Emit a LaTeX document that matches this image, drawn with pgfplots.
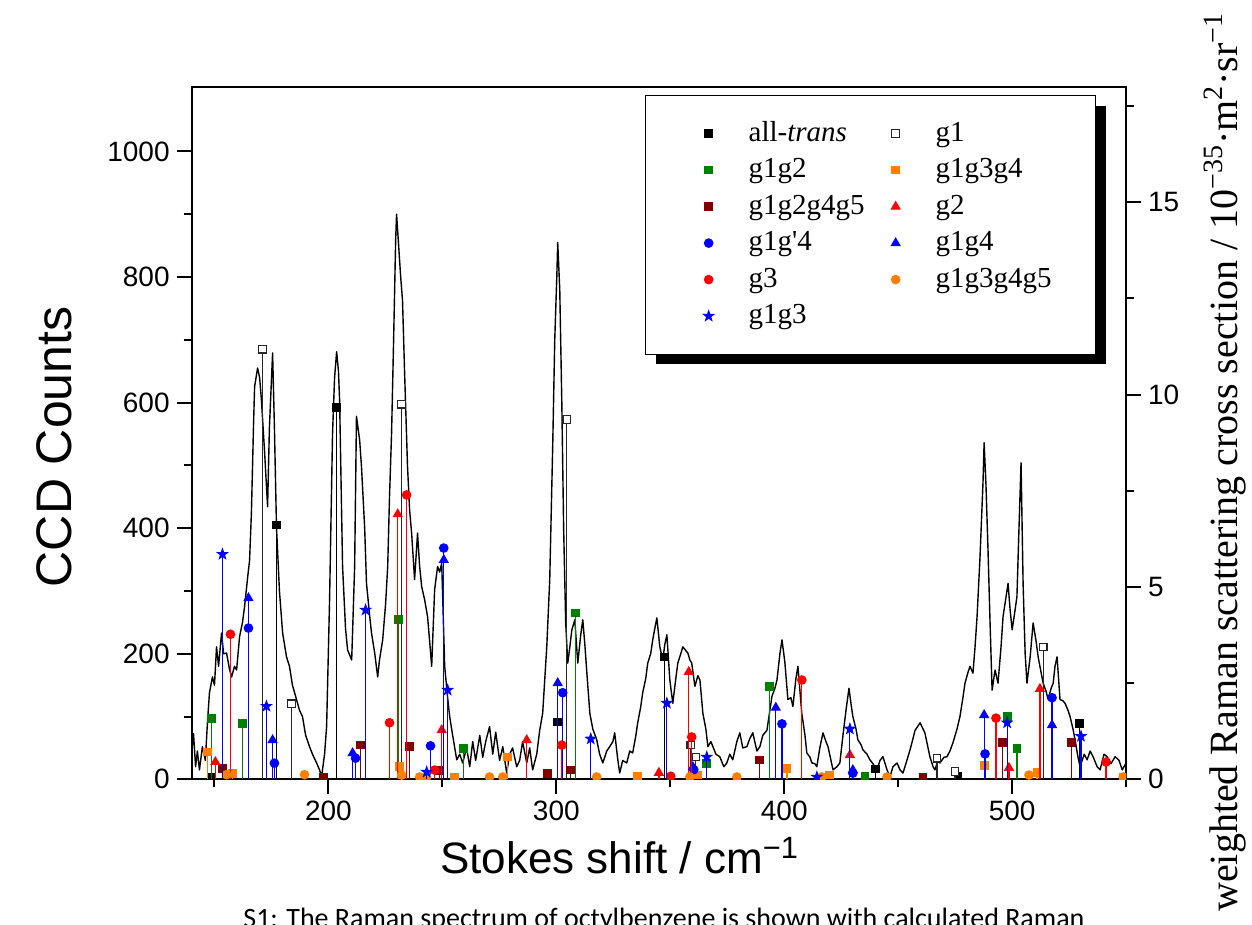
\documentclass[border=0pt]{standalone}
\usepackage{fontspec}
\setmainfont{Liberation Sans}
\newfontfamily\camb{Liberation Serif}
\newfontfamily\capfont{Carlito}
\usepackage{pgfplots}
\pgfplotsset{compat=1.18}
\usepackage{pgfplotstable}
\usetikzlibrary{shadows}
\definecolor{ogreen}{RGB}{0,128,0}
\definecolor{oorange}{RGB}{255,128,0}
\definecolor{odred}{RGB}{128,0,0}
\definecolor{ored}{RGB}{255,0,0}
\definecolor{oblue}{RGB}{0,0,255}

% filled five-pointed star
\pgfdeclareplotmark{fstar}{%
  \pgfpathmoveto{\pgfpointpolar{90}{1.25\pgfplotmarksize}}%
  \pgfpathlineto{\pgfpointpolar{126}{0.5\pgfplotmarksize}}%
  \pgfpathlineto{\pgfpointpolar{162}{1.25\pgfplotmarksize}}%
  \pgfpathlineto{\pgfpointpolar{198}{0.5\pgfplotmarksize}}%
  \pgfpathlineto{\pgfpointpolar{234}{1.25\pgfplotmarksize}}%
  \pgfpathlineto{\pgfpointpolar{270}{0.5\pgfplotmarksize}}%
  \pgfpathlineto{\pgfpointpolar{306}{1.25\pgfplotmarksize}}%
  \pgfpathlineto{\pgfpointpolar{342}{0.5\pgfplotmarksize}}%
  \pgfpathlineto{\pgfpointpolar{18}{1.25\pgfplotmarksize}}%
  \pgfpathlineto{\pgfpointpolar{54}{0.5\pgfplotmarksize}}%
  \pgfpathclose\pgfusepathqfillstroke}

\pgfplotsset{
  stem/.style={ycomb, line width=0.6pt, mark size=1.9pt,
    legend image code/.code={%
      \pgfpathrectangle{\pgfpoint{0pt}{-4pt}}{\pgfpoint{23pt}{8pt}}%
      \pgfusepath{use as bounding box}%
      \draw[##1] plot coordinates {(11.5pt,0pt)};}},
}

% measured spectrum (CCD counts)
\pgfplotstableread{
x y
139.9 40
140.8 73
141.7 20
142.5 45
143.4 15
144.7 52
146.0 30
146.9 90
147.8 138
149.1 163
150.0 150
150.9 211
151.8 180
153.1 233
154.0 200
155.3 201
156.6 175
157.5 163
158.8 180
159.7 174
161.0 227
162.3 250
163.2 275
164.5 320
165.4 349
166.2 424
167.1 560
167.6 625
168.9 655
169.8 640
170.6 604
172.0 520
173.3 434
174.1 560
175.5 679
176.3 560
177.2 402
178.5 300
179.9 233
181.6 195
182.9 180
184.2 150
186.0 127
187.3 110
188.6 100
190.0 70
191.7 52
193.0 40
194.8 26
196.1 15
197.0 4
198.3 40
199.2 84
200.5 286
201.8 551
202.7 640
203.6 681
204.4 650
204.9 604
206.2 339
207.5 240
208.4 206
210.2 190
211.5 339
212.3 578
213.7 540
214.5 498
215.9 400
216.7 312
218.1 260
218.9 233
220.3 201
221.6 163
222.4 190
223.8 222
225.1 280
226.0 339
226.8 450
227.7 551
228.6 700
229.5 860
229.9 900
230.8 850
231.7 800
232.5 763
233.4 650
234.7 498
235.6 430
236.5 392
237.8 318
239.1 392
240.0 340
240.9 307
242.2 286
243.5 259
244.4 220
245.3 180
246.6 302
247.9 339
248.8 330
249.7 344
251.0 180
252.3 130
253.2 100
254.5 70
256.3 31
257.6 40
258.9 26
260.6 50
262.0 20
263.3 60
264.6 30
266.4 70
267.7 35
269.0 60
270.7 84
272.1 40
273.4 75
275.1 30
276.5 52
278.2 10
279.5 40
280.8 50
282.6 20
283.9 30
285.2 60
287.0 26
288.3 50
289.6 15
291.4 40
292.7 78
294.0 105
295.8 211
297.1 318
298.4 530
299.3 700
300.2 800
300.6 855
301.5 780
302.4 600
303.2 400
304.1 250
305.0 185
305.9 210
306.8 238
308.1 254
309.4 185
310.7 230
311.6 254
312.5 215
313.3 174
314.7 105
316.0 80
317.7 63
319.0 40
320.4 26
322.1 45
323.4 52
324.8 60
325.6 74
327.0 30
327.8 10
329.1 30
330.9 26
332.2 45
333.5 42
334.9 70
335.7 90
337.0 115
337.9 138
339.2 160
340.1 185
341.4 200
342.3 222
343.2 240
344.1 257
345.4 211
346.7 190
347.6 215
348.5 230
349.8 158
351.1 121
352.4 160
353.3 185
354.6 200
355.5 211
356.8 205
357.7 201
358.6 190
359.4 185
360.8 148
362.1 165
363.0 158
364.3 105
365.6 80
366.5 52
367.8 60
368.7 52
370.0 40
371.7 36
373.5 20
374.8 26
376.1 40
377.4 31
379.2 60
380.5 74
381.8 50
383.6 52
384.9 65
386.2 74
388.0 45
389.3 52
390.6 70
392.4 78
393.7 110
394.6 132
395.9 145
396.8 158
398.1 200
399.0 222
399.8 200
400.3 185
401.6 127
402.9 130
403.8 116
405.1 160
406.0 180
406.9 140
407.7 105
409.1 70
409.9 42
411.3 35
412.1 26
413.4 25
414.3 20
415.6 50
417.0 74
418.3 60
419.2 52
420.5 30
421.4 15
423.1 20
424.4 26
425.7 68
427.1 110
428.4 145
429.3 120
430.1 100
431.5 80
432.3 63
433.7 55
434.5 47
436.3 40
437.6 31
438.9 25
440.7 15
442.0 30
443.3 36
445.1 15
446.4 4
447.7 20
449.5 26
450.8 15
452.1 10
453.8 30
455.2 47
456.5 65
457.4 78
458.7 85
459.6 90
460.9 80
461.7 74
463.1 50
463.9 36
465.3 20
466.1 15
467.5 30
468.3 26
470.1 35
471.4 36
472.7 45
474.0 58
475.8 80
477.1 100
478.4 130
479.3 153
480.6 170
481.5 180
482.8 169
483.7 210
484.6 259
485.9 354
487.2 472
487.7 536
488.5 470
489.4 366
490.3 250
491.2 142
492.5 174
493.8 153
495.1 210
496.0 259
497.3 290
498.2 312
499.1 270
500.0 238
501.3 270
502.1 291
503.0 400
503.9 504
504.8 312
505.7 200
506.5 153
507.9 195
509.2 249
510.5 220
511.4 195
512.7 170
513.6 153
514.9 140
515.8 127
517.1 145
518.0 153
518.8 180
519.7 195
521.0 127
522.3 125
523.2 121
524.5 110
525.4 100
526.7 80
527.6 63
528.9 35
529.8 20
531.6 40
532.9 31
534.2 45
535.5 36
537.3 20
538.6 15
540.3 40
541.7 36
543.4 25
545.2 36
546.9 30
548.3 15
550.0 26
}\spectrum

\begin{document}
\begin{tikzpicture}
\begin{axis}[
  at={(0,0)}, anchor=south west,
  scale only axis, width=467.2pt, height=346.3pt,
  xmin=140, xmax=550, ymin=0, ymax=1103,
  xtick={200,300,400,500}, minor xtick={150,250,350,450,550},
  ytick={0,200,...,1000}, minor ytick={100,300,...,900},
  tick pos=left, tick align=outside,
  major tick length=7.5pt, minor tick length=4pt,
  major tick style={black, line width=1pt},
  minor tick style={black, line width=1pt},
  axis line style={line width=1pt},
  tick label style={font=\fontsize{14}{16}\selectfont},
  /pgf/number format/assume math mode=true,
  /pgf/number format/1000 sep={},
  xlabel={Stokes shift / cm\textsuperscript{−1}},
  xlabel style={font=\fontsize{22}{26}\selectfont, at={(axis description cs:0.458,-0.11)}, anchor=center},
  ylabel={CCD Counts},
  ylabel style={font=\fontsize{25}{29}\selectfont, at={(axis description cs:-0.147,0.48)}, anchor=center},
]
\addplot[black, line width=0.7pt, line join=round] table {\spectrum};
\end{axis}
\begin{axis}[
  at={(0,0)}, anchor=south west,
  scale only axis, width=467.2pt, height=346.3pt,
  xmin=140, xmax=550, ymin=0, ymax=18,
  axis x line=none, axis y line*=right,
  ytick={0,5,10,15}, minor ytick={2.5,7.5,12.5,17.5},
  tick align=outside,
  major tick length=7.5pt, minor tick length=4pt,
  major tick style={black, line width=1pt},
  minor tick style={black, line width=1pt},
  axis line style={line width=1pt},
  tick label style={font=\fontsize{14}{16}\selectfont},
  /pgf/number format/assume math mode=true,
  ylabel={weighted Raman scattering cross section / 10\textsuperscript{−35}·m\textsuperscript{2}·sr\textsuperscript{−1}},
  ylabel style={font=\camb\fontsize{20}{24}\selectfont, at={(axis description cs:1.106,0.458)}, anchor=center},
  clip marker paths=true,
  legend columns=2,
  legend cell align=left,
  legend style={
    at={(axis description cs:0.4852,0.988)}, anchor=north west,
    draw=black, line width=0.6pt, fill=white,
    inner xsep=20pt, inner ysep=11.75pt,
    font=\camb\fontsize{14.5}{17}\selectfont,
    nodes={inner sep=0pt, text width=60pt, text height=11pt, text depth=3.5pt},
    /tikz/row sep=3.75pt,
    /tikz/every odd column/.append style={column sep=8.5pt},
    /tikz/every even column/.append style={column sep=2pt},
    drop shadow={shadow xshift=5pt, shadow yshift=-5pt, fill=black, opacity=1},
  },
]
\addplot[stem, color=black, mark=square*] coordinates {
(148.7,0.06) (177.2,6.61) (203.6,9.67) (300.6,1.49) (347.6,3.18)
(440.2,0.27) (476.2,0.08) (529.4,1.44)};
\addlegendentry{all-\textit{trans}}
\addplot[stem, draw=black!85, mark=square*, mark options={fill=white, draw=black!85}] coordinates {
(171.1,11.18) (183.8,1.96) (232.1,9.75) (304.6,9.35) (359.0,0.89)
(361.2,0.58) (467.0,0.55) (474.9,0.20) (513.6,3.44)};
\addlegendentry{g1}
\addplot[stem, color=ogreen, mark=square*] coordinates {
(148.7,1.59) (162.3,1.46) (230.8,4.16) (259.3,0.81) (308.5,4.32)
(366.0,0.42) (393.7,2.42) (435.4,0.08) (497.8,1.64) (502.1,0.81)};
\addlegendentry{g1g2}
\addplot[stem, color=oorange, mark=square*] coordinates {
(146.9,0.71) (157.9,0.15) (231.2,0.33) (255.4,0.06) (278.7,0.58)
(335.7,0.08) (362.1,0.11) (401.2,0.29) (420.0,0.11) (487.7,0.35)
(510.9,0.17) (548.7,0.06)};
\addlegendentry{g1g3g4}
\addplot[stem, color=odred, mark=square*] coordinates {
(153.5,0.29) (197.9,0.06) (214.1,0.89) (235.6,0.85) (248.8,0.22)
(296.2,0.16) (306.3,0.24) (389.3,0.50) (460.9,0.06) (495.6,0.95)
(525.9,0.95)};
\addlegendentry{g1g2g4g5}
\addplot[stem, color=ored, mark=triangle*, mark size=2.4pt] coordinates {
(150.4,0.45) (230.4,6.89) (249.7,1.28) (287.0,1.02) (345.0,0.17)
(358.1,2.79) (428.8,0.63) (498.6,0.30) (512.2,2.35)};
\addlegendentry{g2}
\addplot[stem, color=oblue, mark=*, mark size=2.1pt] coordinates {
(164.9,3.93) (176.3,0.42) (211.9,0.55) (244.8,0.87) (250.6,6.01)
(302.8,2.25) (360.3,0.25) (399.0,1.44) (430.1,0.16) (488.1,0.66)
(517.5,2.12)};
\addlegendentry{g1g'4}
\addplot[stem, color=oblue, mark=triangle*, mark size=2.4pt] coordinates {
(164.9,4.71) (175.5,1.02) (210.6,0.68) (250.6,5.70) (300.6,2.50)
(359.9,0.32) (396.3,1.86) (430.1,0.24) (487.7,1.67) (517.5,1.41)};
\addlegendentry{g1g4}
\addplot[stem, color=ored, mark=*, mark size=2.1pt] coordinates {
(157.0,3.77) (226.8,1.47) (234.3,7.39) (246.6,0.24) (302.4,0.89)
(350.2,0.08) (359.4,1.10) (407.7,2.58) (492.9,1.59) (541.2,0.45)};
\addlegendentry{g3}
\addplot[stem, color=oorange, mark=*, mark size=2.1pt] coordinates {
(155.3,0.12) (189.5,0.12) (232.1,0.11) (240.0,0.06) (243.1,0.06)
(270.7,0.06) (276.5,0.06) (317.7,0.06) (358.6,0.06) (379.2,0.06)
(416.5,0.06) (445.1,0.06) (507.4,0.11) (548.7,0.06)};
\addlegendentry{g1g3g4g5}
\addplot[stem, color=oblue, mark=fstar, mark size=2pt] coordinates {
(153.5,5.85) (172.8,1.90) (216.3,4.40) (243.1,0.19) (252.3,2.32)
(315.1,1.05) (348.5,1.98) (366.0,0.58) (414.3,0.06) (428.8,1.31)
(497.8,1.47) (530.2,1.12)};
\addlegendentry{g1g3}
\end{axis}
\node[anchor=base west, inner sep=0pt, font=\capfont\fontsize{14}{17}\selectfont]
  at (25.65pt,-74.35pt) {S1: The Raman spectrum of octylbenzene is shown with calculated Raman};
\pgfresetboundingbox
\useasboundingbox (-95.85pt,-72.85pt) rectangle (530.15pt,389.65pt);
\end{tikzpicture}
\end{document}
